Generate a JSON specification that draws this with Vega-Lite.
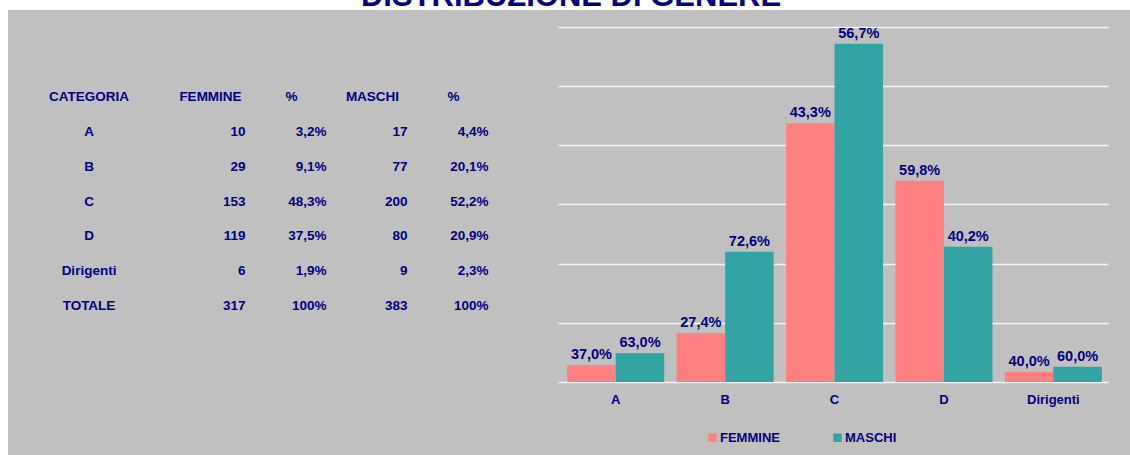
{
  "$schema": "https://vega.github.io/schema/vega-lite/v6.json",
  "background": "#c0c0c0",
  "padding": 0,
  "autosize": {"type": "pad"},
  "bounds": "flush",
  "spacing": 0,
  "config": {
    "font": "Liberation Sans",
    "view": {"stroke": null},
    "concat": {"spacing": 0}
  },
  "datasets": {
    "barre": [
      {"categoria": "A", "genere": "FEMMINE", "n": 10, "pct": "37,0%"},
      {"categoria": "A", "genere": "MASCHI", "n": 17, "pct": "63,0%"},
      {"categoria": "B", "genere": "FEMMINE", "n": 29, "pct": "27,4%"},
      {"categoria": "B", "genere": "MASCHI", "n": 77, "pct": "72,6%"},
      {"categoria": "C", "genere": "FEMMINE", "n": 153, "pct": "43,3%"},
      {"categoria": "C", "genere": "MASCHI", "n": 200, "pct": "56,7%"},
      {"categoria": "D", "genere": "FEMMINE", "n": 119, "pct": "59,8%"},
      {"categoria": "D", "genere": "MASCHI", "n": 80, "pct": "40,2%"},
      {"categoria": "Dirigenti", "genere": "FEMMINE", "n": 6, "pct": "40,0%"},
      {"categoria": "Dirigenti", "genere": "MASCHI", "n": 9, "pct": "60,0%"}
    ],
    "tabella": [
      {"riga": "header", "colonna": "CATEGORIA", "testo": "CATEGORIA"},
      {"riga": "header", "colonna": "FEMMINE", "testo": "FEMMINE"},
      {"riga": "header", "colonna": "F_pct", "testo": "%"},
      {"riga": "header", "colonna": "MASCHI", "testo": "MASCHI"},
      {"riga": "header", "colonna": "M_pct", "testo": "%"},
      {"riga": "A", "colonna": "CATEGORIA", "testo": "A"},
      {"riga": "A", "colonna": "FEMMINE", "testo": "10"},
      {"riga": "A", "colonna": "F_pct", "testo": "3,2%"},
      {"riga": "A", "colonna": "MASCHI", "testo": "17"},
      {"riga": "A", "colonna": "M_pct", "testo": "4,4%"},
      {"riga": "B", "colonna": "CATEGORIA", "testo": "B"},
      {"riga": "B", "colonna": "FEMMINE", "testo": "29"},
      {"riga": "B", "colonna": "F_pct", "testo": "9,1%"},
      {"riga": "B", "colonna": "MASCHI", "testo": "77"},
      {"riga": "B", "colonna": "M_pct", "testo": "20,1%"},
      {"riga": "C", "colonna": "CATEGORIA", "testo": "C"},
      {"riga": "C", "colonna": "FEMMINE", "testo": "153"},
      {"riga": "C", "colonna": "F_pct", "testo": "48,3%"},
      {"riga": "C", "colonna": "MASCHI", "testo": "200"},
      {"riga": "C", "colonna": "M_pct", "testo": "52,2%"},
      {"riga": "D", "colonna": "CATEGORIA", "testo": "D"},
      {"riga": "D", "colonna": "FEMMINE", "testo": "119"},
      {"riga": "D", "colonna": "F_pct", "testo": "37,5%"},
      {"riga": "D", "colonna": "MASCHI", "testo": "80"},
      {"riga": "D", "colonna": "M_pct", "testo": "20,9%"},
      {"riga": "Dirigenti", "colonna": "CATEGORIA", "testo": "Dirigenti"},
      {"riga": "Dirigenti", "colonna": "FEMMINE", "testo": "6"},
      {"riga": "Dirigenti", "colonna": "F_pct", "testo": "1,9%"},
      {"riga": "Dirigenti", "colonna": "MASCHI", "testo": "9"},
      {"riga": "Dirigenti", "colonna": "M_pct", "testo": "2,3%"},
      {"riga": "TOTALE", "colonna": "CATEGORIA", "testo": "TOTALE"},
      {"riga": "TOTALE", "colonna": "FEMMINE", "testo": "317"},
      {"riga": "TOTALE", "colonna": "F_pct", "testo": "100%"},
      {"riga": "TOTALE", "colonna": "MASCHI", "testo": "383"},
      {"riga": "TOTALE", "colonna": "M_pct", "testo": "100%"}
    ]
  },
  "vconcat": [
    {
      "width": 1130,
      "height": 10,
      "view": {"fill": "white", "stroke": null},
      "data": {"values": [{"titolo": "DISTRIBUZIONE DI GENERE"}]},
      "mark": {"type": "text", "clip": true, "font": "Liberation Sans", "fontWeight": "bold", "fontSize": 31, "color": "#000080", "baseline": "alphabetic", "align": "center", "dx": 6, "dy": 1},
      "encoding": {"text": {"field": "titolo"}}
    },
    {
      "spacing": 0,
      "bounds": "flush",
      "hconcat": [
        {
          "width": 8,
          "height": 445,
          "view": {"fill": "white", "stroke": null},
          "data": {"values": [{"t": ""}]},
          "mark": {"type": "text"},
          "encoding": {"text": {"field": "t"}}
        },
        {
          "width": 550,
          "height": 445,
          "data": {"name": "tabella"},
          "encoding": {
            "x": {"field": "colonna", "type": "nominal", "scale": {"type": "point", "domain": ["CATEGORIA", "FEMMINE", "F_pct", "MASCHI", "M_pct"], "padding": 0, "range": [121.5, 445.5]}, "axis": null},
            "y": {"field": "riga", "type": "nominal", "scale": {"type": "point", "domain": ["header", "A", "B", "C", "D", "Dirigenti", "TOTALE"], "padding": 0, "range": [87, 296]}, "axis": null},
            "text": {"field": "testo"}
          },
          "layer": [
            {
              "transform": [{"filter": "datum.colonna === 'CATEGORIA'"}],
              "mark": {"type": "text", "align": "center", "baseline": "middle", "dx": -40.5, "fontWeight": "bold", "fontSize": 13.5, "color": "#000080"}
            },
            {
              "transform": [{"filter": "datum.colonna !== 'CATEGORIA' && datum.riga === 'header'"}],
              "mark": {"type": "text", "align": "center", "baseline": "middle", "fontWeight": "bold", "fontSize": 13.5, "color": "#000080"}
            },
            {
              "transform": [{"filter": "datum.colonna !== 'CATEGORIA' && datum.riga !== 'header'"}],
              "mark": {"type": "text", "align": "right", "baseline": "middle", "dx": 35, "fontWeight": "bold", "fontSize": 13.5, "color": "#000080"}
            }
          ]
        },
        {
          "width": 550,
          "height": 372,
          "data": {"name": "barre"},
          "encoding": {
            "x": {"field": "categoria", "type": "nominal", "sort": ["A", "B", "C", "D", "Dirigenti"], "scale": {"paddingInner": 0.113, "paddingOuter": 0.07, "align": 0.6}, "axis": {"title": null, "labelAngle": 0, "domain": false, "ticks": false, "grid": false, "labelPadding": 11, "labelFont": "Liberation Sans", "labelFontWeight": "bold", "labelFontSize": 13, "labelColor": "#000080"}},
            "xOffset": {"field": "genere", "type": "nominal", "sort": ["FEMMINE", "MASCHI"], "scale": {"paddingInner": 0, "paddingOuter": 0}},
            "y": {"field": "n", "type": "quantitative", "scale": {"domain": [0, 220], "nice": false, "zero": true}, "axis": {"title": null, "labels": false, "ticks": false, "domain": false, "grid": true, "values": [0, 35, 70, 105, 140, 175, 210], "gridColor": "#f4f4f4", "gridWidth": 1.5}}
          },
          "layer": [
            {
              "mark": {"type": "bar"},
              "encoding": {
                "color": {"field": "genere", "type": "nominal", "scale": {"domain": ["FEMMINE", "MASCHI"], "range": ["#ff8080", "#33a3a3"]},
                  "legend": {"orient": "none", "legendX": 706, "legendY": 431, "direction": "horizontal", "title": null, "symbolType": "square", "symbolSize": 70, "symbolStrokeWidth": 0, "symbolOpacity": 1, "labelFont": "Liberation Sans", "labelFontWeight": "bold", "labelFontSize": 13, "labelColor": "#000080", "labelOffset": 1, "columnPadding": 51, "padding": 0}}
              }
            },
            {
              "mark": {"type": "text", "baseline": "alphabetic", "dy": -6, "fontWeight": "bold", "fontSize": 14.5, "color": "#000080"},
              "encoding": {"text": {"field": "pct"}}
            }
          ]
        }
      ]
    }
  ]
}
